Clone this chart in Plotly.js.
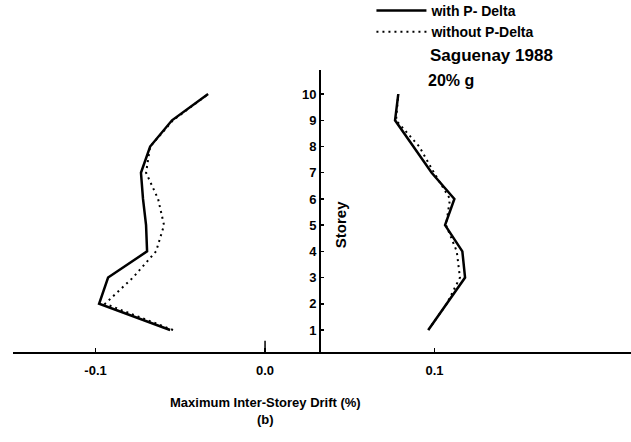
<!DOCTYPE html>
<html>
<head>
<meta charset="utf-8">
<script src="https://cdn.plot.ly/plotly-3.0.1.min.js"></script>
<style>
  html, body { margin: 0; padding: 0; background: #ffffff; }
  #chart { width: 631px; height: 442px; }
</style>
</head>
<body>
<div id="chart"></div>
<script>
// Storey levels
const storeys = [1, 2, 3, 4, 5, 6, 7, 8, 9, 10];
const storeyLabels = ['1', '2', '3', '4', '5', '6', '7', '8', '9', '10'];

// Maximum inter-storey drift (%), left-hand envelope
const negWithPDelta    = [-0.0560, -0.0979, -0.0926, -0.0696, -0.0702, -0.0720, -0.0732, -0.0678, -0.0549, -0.0336];
const negWithoutPDelta = [-0.0543, -0.0944, -0.0779, -0.0643, -0.0596, -0.0631, -0.0702, -0.0678, -0.0543, -0.0336];

// Maximum inter-storey drift (%), right-hand envelope
const posWithPDelta    = [0.0963, 0.1072, 0.1180, 0.1164, 0.1062, 0.1117, 0.0983, 0.0875, 0.0767, 0.0786];
const posWithoutPDelta = [0.0963, 0.1072, 0.1150, 0.1131, 0.1068, 0.1091, 0.0997, 0.0910, 0.0773, 0.0786];

// x axis ticks
const xTickVals = [-0.1, 0.0, 0.1];
const xTickText = ['-0.1', '0.0', '0.1'];

const seriesNames = ['with P- Delta', 'without P-Delta'];

const FONT = 'Arial, "Liberation Sans", Helvetica, sans-serif';
const solidLine = { color: '#000000', width: 2.5, dash: 'solid' };
const dotLine = { color: '#000000', width: 2, dash: '2px,4px' };

const traces = [
  { x: negWithPDelta, y: storeys, mode: 'lines', line: solidLine, name: seriesNames[0], showlegend: true, legendrank: 1 },
  { x: negWithoutPDelta, y: storeys, mode: 'lines', line: dotLine, name: seriesNames[1], showlegend: true, legendrank: 2 },
  { x: posWithPDelta, y: storeys, mode: 'lines', line: solidLine, name: seriesNames[0], showlegend: false },
  { x: posWithoutPDelta, y: storeys, mode: 'lines', line: dotLine, name: seriesNames[1], showlegend: false }
];

const xRange = [-0.1487, 0.2159];
const storeyAxisPos = 0.4968;

const layout = {
  width: 631,
  height: 442,
  margin: { l: 13, r: 0, t: 70, b: 90, autoexpand: false },
  paper_bgcolor: '#ffffff',
  plot_bgcolor: '#ffffff',
  font: { family: FONT, color: '#000000', size: 12 },
  showlegend: true,
  legend: {
    x: 0.580, y: 1.266, xanchor: 'left', yanchor: 'top',
    bgcolor: 'rgba(0,0,0,0)',
    font: { family: FONT, size: 14, color: '#000000', weight: 'bold' },
    tracegroupgap: 0,
    itemwidth: 50
  },
  xaxis: {
    range: xRange,
    showgrid: false,
    zeroline: false,
    showline: true,
    linecolor: '#000000',
    linewidth: 2,
    ticks: 'inside',
    ticklen: 4,
    tickwidth: 1.5,
    tickcolor: '#000000',
    tickvals: xTickVals,
    ticktext: xTickText,
    ticklabelstandoff: 5,
    tickfont: { family: FONT, size: 13, weight: 'bold' },
    fixedrange: true
  },
  yaxis: {
    range: [0.16, 10.92],
    anchor: 'free',
    position: storeyAxisPos,
    side: 'left',
    showgrid: false,
    zeroline: false,
    showline: true,
    linecolor: '#000000',
    linewidth: 2,
    ticks: 'inside',
    ticklen: 3,
    tickwidth: 1.5,
    tickcolor: '#000000',
    tickvals: storeys,
    ticktext: storeyLabels,
    tickfont: { family: FONT, size: 13, weight: 'bold' },
    fixedrange: true
  },
  shapes: [
    { type: 'line', xref: 'x', yref: 'paper', x0: 0, x1: 0, y0: 0, y1: 0.04,
      line: { color: '#000000', width: 1.5 } }
  ],
  annotations: [
    { text: 'Storey', xref: 'paper', yref: 'y', x: storeyAxisPos, y: 5.0, xshift: 20, textangle: -90,
      showarrow: false, font: { family: FONT, size: 15, weight: 'bold' } },
    { text: 'Saguenay 1988', xref: 'paper', yref: 'paper', x: 0.672, y: 1.05,
      xanchor: 'left', yanchor: 'middle', showarrow: false,
      font: { family: FONT, size: 17, weight: 'bold' } },
    { text: '20% g', xref: 'paper', yref: 'paper', x: 0.668, y: 0.962,
      xanchor: 'left', yanchor: 'middle', showarrow: false,
      font: { family: FONT, size: 16, weight: 'bold' } },
    { text: 'Maximum Inter-Storey Drift (%)', xref: 'x', yref: 'paper', x: 0, y: -0.178,
      yanchor: 'middle', showarrow: false, font: { family: FONT, size: 13, weight: 'bold' } },
    { text: '(b)', xref: 'x', yref: 'paper', x: 0, y: -0.241,
      yanchor: 'middle', showarrow: false, font: { family: FONT, size: 13, weight: 'bold' } }
  ]
};

Plotly.newPlot('chart', traces, layout, { staticPlot: true, displayModeBar: false });
</script>
</body>
</html>
